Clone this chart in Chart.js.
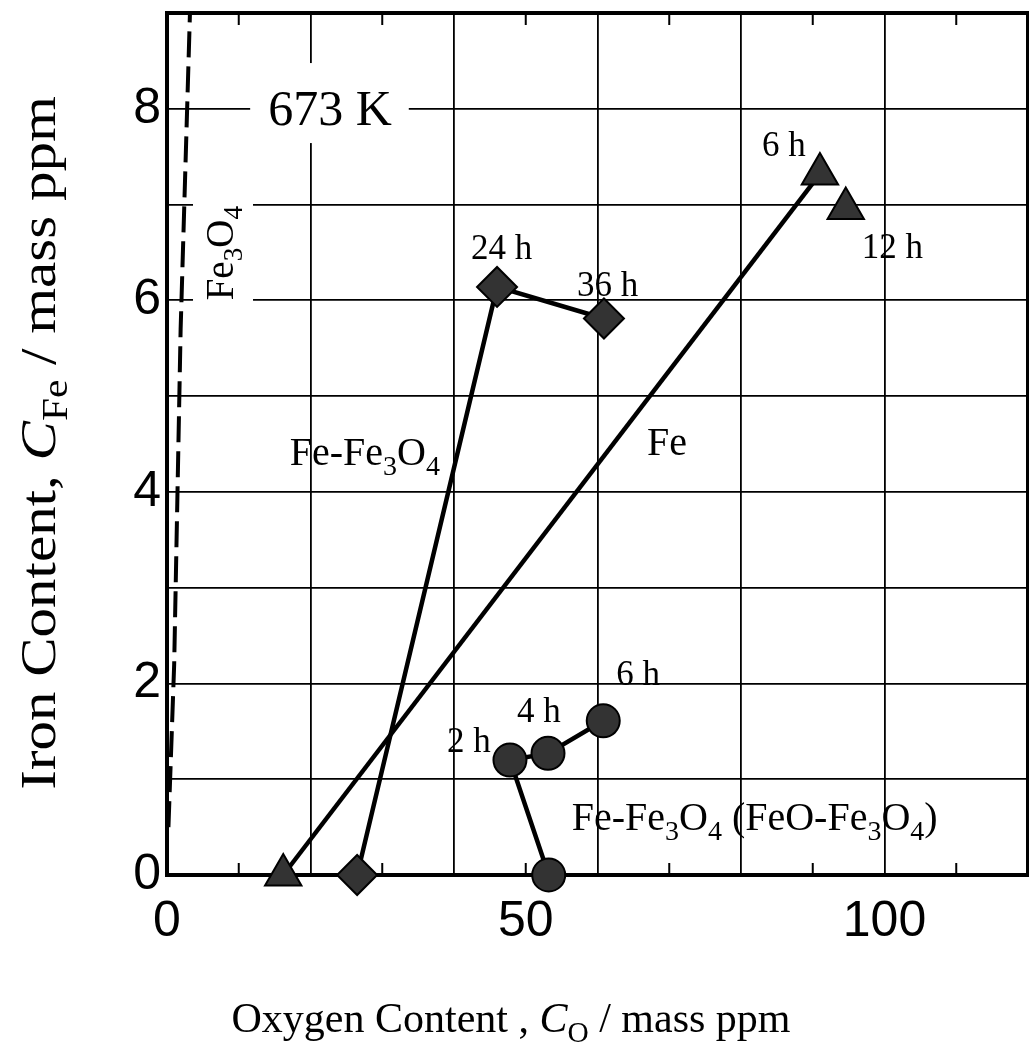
<!DOCTYPE html>
<html><head><meta charset="utf-8">
<script src="https://cdn.jsdelivr.net/npm/chart.js@4.4.1/dist/chart.umd.min.js"></script>
<style>html,body{margin:0;padding:0;background:#fff;}#wrap{width:1029px;height:1044px;}</style>
</head><body><div id="wrap"><canvas id="c" width="1029" height="1044"></canvas></div>
<script>
// ---- data ----
const feHours = ['', '6 h', '12 h'];
const feOxygen = [16.2, 91.0, 94.6];
const feIron = [0, 7.32, 6.96];

const mixHours = ['', '24 h', '36 h'];
const mixOxygen = [26.5, 46.0, 60.9];
const mixIron = [0, 6.14, 5.81];

const feoHours = ['', '2 h', '4 h', '6 h'];
const feoOxygen = [53.2, 47.8, 53.1, 60.8];
const feoIron = [0, 1.20, 1.27, 1.61];

const boundaryOxygen = [0.2, 1.0, 1.9, 3.2];
const boundaryIron = [0.5, 2.2, 5.7, 9.0];

const xTickLabels = [0, 50, 100];
const yTickLabels = [0, 2, 4, 6, 8];

// ---- label placement (pixel offsets from each point) ----
const feLabelOffsets = [null, [-58, -18], [16, 50]];
const mixLabelOffsets = [null, [-26, -28], [-27, -23]];
const feoLabelOffsets = [null, [-63, -8], [-31, -31], [13, -36]];

// free annotations anchored in data units
const notes = [
  { text: '673 K', x: 14.1, y: 7.83, size: 50, box: true },
  { text: 'Fe-Fe_{3}O_{4}', x: 17.1, y: 4.28, size: 40 },
  { text: 'Fe', x: 66.9, y: 4.39, size: 40 },
  { text: 'Fe-Fe_{3}O_{4} (FeO-Fe_{3}O_{4})', x: 56.4, y: 0.47, size: 40 }
];
const rotatedNote = { text: 'Fe_{3}O_{4}', x: 9.2, y: 6.0, size: 39 };

const SERIF = '"Liberation Serif", "Times New Roman", serif';

function pts(xs, ys) { return xs.map((v, i) => ({ x: v, y: ys[i] })); }

function parseRich(s) {
  const parts = []; let i = 0, buf = '', it = false;
  while (i < s.length) {
    if (s[i] === '_' && s[i + 1] === '{') {
      if (buf) parts.push({ t: buf, it }); buf = '';
      const j = s.indexOf('}', i);
      parts.push({ t: s.slice(i + 2, j), sub: true });
      i = j + 1;
    } else if (s[i] === '*') {
      if (buf) parts.push({ t: buf, it }); buf = ''; it = !it; i++;
    } else { buf += s[i]; i++; }
  }
  if (buf) parts.push({ t: buf, it });
  return parts;
}
function setFont(ctx, p, size) {
  const fs = p.sub ? size * 0.7 : size;
  ctx.font = (p.it ? 'italic ' : '') + fs + 'px ' + SERIF;
}
function richWidth(ctx, s, size) {
  let w = 0;
  for (const p of parseRich(s)) { setFont(ctx, p, size); w += ctx.measureText(p.t).width; }
  return w;
}
function drawRich(ctx, s, x, y, size) {
  let cx = x;
  ctx.textBaseline = 'alphabetic'; ctx.textAlign = 'left';
  for (const p of parseRich(s)) {
    setFont(ctx, p, size);
    ctx.fillText(p.t, cx, y + (p.sub ? size * 0.24 : 0));
    cx += ctx.measureText(p.t).width;
  }
  return cx - x;
}

const decor = {
  id: 'decor',
  beforeDatasetsDraw(chart) {
    const { ctx, chartArea: a, scales: { x, y } } = chart;
    ctx.save();
    ctx.fillStyle = '#fff';
    for (const n of notes) {
      if (!n.box) continue;
      const px = x.getPixelForValue(n.x), py = y.getPixelForValue(n.y);
      const w = richWidth(ctx, n.text, n.size);
      ctx.fillRect(px - 18, py - 62, w + 35, 80);
    }
    {
      const px = x.getPixelForValue(rotatedNote.x), py = y.getPixelForValue(rotatedNote.y);
      const w = richWidth(ctx, rotatedNote.text, rotatedNote.size);
      ctx.fillRect(px - 40, py - w - 10, 60, w + 20);
    }
    ctx.strokeStyle = '#000';
    ctx.lineWidth = 4;
    ctx.strokeRect(a.left, a.top, a.right - a.left, a.bottom - a.top);
    ctx.lineWidth = 2;
    ctx.beginPath();
    for (let v = 10; v < 120; v += 20) {
      const px = x.getPixelForValue(v);
      ctx.moveTo(px, a.bottom); ctx.lineTo(px, a.bottom - 12);
      ctx.moveTo(px, a.top); ctx.lineTo(px, a.top + 12);
    }
    ctx.stroke();
    ctx.restore();
  },
  afterDraw(chart) {
    const { ctx, scales: { x, y } } = chart;
    ctx.save();
    ctx.fillStyle = '#000';
    for (const n of notes) {
      drawRich(ctx, n.text, x.getPixelForValue(n.x), y.getPixelForValue(n.y), n.size);
    }
    ctx.save();
    ctx.translate(x.getPixelForValue(rotatedNote.x), y.getPixelForValue(rotatedNote.y));
    ctx.rotate(-Math.PI / 2);
    drawRich(ctx, rotatedNote.text, 0, 0, rotatedNote.size);
    ctx.restore();
    const sets = [[feHours, feLabelOffsets, 0], [mixHours, mixLabelOffsets, 1], [feoHours, feoLabelOffsets, 2]];
    for (const [labels, offs, di] of sets) {
      const meta = chart.getDatasetMeta(di + 1);
      labels.forEach((lab, i) => {
        if (!lab || !offs[i]) return;
        const el = meta.data[i];
        drawRich(ctx, lab, el.x + offs[i][0], el.y + offs[i][1], 35);
      });
    }
    const xt = 'Oxygen Content , *C*_{O} / mass ppm';
    const xw = richWidth(ctx, xt, 42);
    drawRich(ctx, xt, 511 - xw / 2, 1032, 42);
    const yt = 'Iron Content, *C*_{Fe} / mass ppm';
    const yw = richWidth(ctx, yt, 50);
    ctx.translate(55, 443);
    ctx.rotate(-Math.PI / 2);
    ctx.scale(1.18, 1);
    drawRich(ctx, yt, -yw / 2, 0, 50);
    ctx.restore();
  }
};

const noPad = s => { s.paddingTop = 0; s.paddingBottom = 0; s.paddingLeft = 0; s.paddingRight = 0; };
const markerFill = '#333';
new Chart(document.getElementById('c'), {
  type: 'scatter',
  data: {
    datasets: [
      {
        label: 'Fe3O4 boundary', data: pts(boundaryOxygen, boundaryIron), showLine: true,
        borderColor: '#000', borderWidth: 4, borderDash: [26, 9], pointRadius: 0, clip: false
      },
      {
        label: 'Fe', data: pts(feOxygen, feIron), showLine: true, borderColor: '#000', borderWidth: 4.5,
        segment: { borderColor: c => c.p1DataIndex === 2 ? 'rgba(0,0,0,0)' : '#000' },
        pointStyle: 'triangle', pointRadius: 21, pointBackgroundColor: markerFill,
        pointBorderColor: '#000', pointBorderWidth: 2, clip: false
      },
      {
        label: 'Fe-Fe3O4', data: pts(mixOxygen, mixIron), showLine: true, borderColor: '#000', borderWidth: 4.5,
        pointStyle: 'rectRot', pointRadius: 20, pointBackgroundColor: markerFill,
        pointBorderColor: '#000', pointBorderWidth: 2, clip: false
      },
      {
        label: 'Fe-Fe3O4 (FeO-Fe3O4)', data: pts(feoOxygen, feoIron), showLine: true, borderColor: '#000', borderWidth: 4.5,
        pointStyle: 'circle', pointRadius: 16.5, pointBackgroundColor: markerFill,
        pointBorderColor: '#000', pointBorderWidth: 2, clip: false
      }
    ]
  },
  options: {
    responsive: false, animation: false,
    layout: { autoPadding: false, padding: { top: 13, right: 1, left: 0, bottom: 0 } },
    plugins: { legend: { display: false }, tooltip: { enabled: false } },
    scales: {
      x: {
        type: 'linear', min: 0, max: 120,
        afterFit: s => { s.height = 169; noPad(s); },
        border: { display: false },
        grid: {
          drawTicks: false, lineWidth: 1.8,
          color: c => (c.tick && c.tick.value % 20 === 0) ? '#000' : 'rgba(0,0,0,0)'
        },
        ticks: {
          stepSize: 10, autoSkip: false, maxRotation: 0, padding: 17, color: '#000',
          font: { family: '"Liberation Sans", Arial, sans-serif', size: 50 },
          callback: v => xTickLabels.includes(v) ? String(v) : ''
        }
      },
      y: {
        type: 'linear', min: 0, max: 9,
        afterFit: s => { s.width = 167; noPad(s); },
        border: { display: false },
        grid: { drawTicks: false, lineWidth: 1.8, color: '#000' },
        ticks: {
          stepSize: 1, autoSkip: false, padding: 6, color: '#000',
          font: { family: '"Liberation Sans", Arial, sans-serif', size: 50 },
          callback: v => yTickLabels.includes(v) ? String(v) : ''
        }
      }
    }
  },
  plugins: [decor]
});
</script>
</body></html>
